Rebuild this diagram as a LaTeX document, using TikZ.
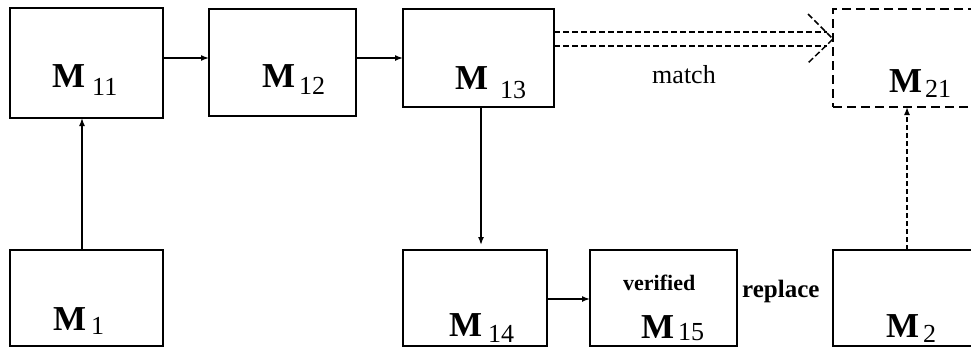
\documentclass[tikz,border=0pt]{standalone}
\usepackage{fontspec}
\setmainfont{Liberation Serif}
\usetikzlibrary{arrows.meta}
\newcommand{\msub}[3]{{\fontsize{35pt}{35pt}\selectfont\bfseries M}\hspace{#1pt}\raisebox{-#2pt}{\fontsize{26pt}{26pt}\selectfont #3}}
\begin{document}
\begin{tikzpicture}[x=1pt,y=1pt,
  box/.style={draw, line width=1.6pt, inner sep=0pt, outer sep=0pt, anchor=north west},
  dbox/.style={box, dash pattern=on 9pt off 5pt},
  arr/.style={line width=1.5pt, -{Latex[length=8pt,width=6pt]}},
  darr/.style={arr, dash pattern=on 5pt off 3pt},
  dl/.style={line width=1.5pt, dash pattern=on 6pt off 3pt},
  lab/.style={anchor=base west, inner sep=0pt}]
\useasboundingbox (0,0) rectangle (971,-348);
\clip (0,0) rectangle (971,-348);
% boxes
\node[box, minimum width=153pt, minimum height=110pt] (m11) at (10,-8) {};
\node[box, minimum width=147pt, minimum height=107pt] (m12) at (209,-9) {};
\node[box, minimum width=151pt, minimum height=98pt] (m13) at (403,-9) {};
\node[dbox, minimum width=170pt, minimum height=98pt] (m21) at (833,-9) {};
\node[box, minimum width=153pt, minimum height=96pt] (m1) at (10,-250) {};
\node[box, minimum width=144pt, minimum height=96pt] (m14) at (403,-250) {};
\node[box, minimum width=147pt, minimum height=96pt] (m15) at (590,-250) {};
\node[box, minimum width=170pt, minimum height=96pt] (m2) at (833,-250) {};
% labels
\node[lab] (l11) at (52,-87) {\msub{7}{8}{11}};
\node[lab] (l12) at (262,-87) {\msub{4}{7}{12}};
\node[lab] (l13) at (455,-89) {\msub{12}{9}{13}};
\node[lab] (l21) at (889,-92) {\msub{3}{5}{21}};
\node[lab] (l1) at (53,-330) {\msub{5}{4}{1}};
\node[lab] (l14) at (449,-336) {\msub{6}{6}{14}};
\node[lab] (l15) at (641,-338) {\msub{4}{2}{15}};
\node[lab] (l2) at (886,-337) {\msub{4}{5}{2}};
\node[lab, font=\bfseries\fontsize{22pt}{22pt}\selectfont] (ver) at (623,-290) {verified};
\node[lab, font=\bfseries\fontsize{25pt}{25pt}\selectfont] (rep) at (742,-297) {replace};
\node[anchor=base, inner sep=0pt, font=\fontsize{26pt}{26pt}\selectfont] (match) at (684,-83) {match};
% connectors
\draw[arr] ([yshift=-50pt]m11.north east) -- ([yshift=-49pt]m12.north west);
\draw[arr] ([yshift=-49pt]m12.north east) -- ([yshift=-49pt]m13.north west);
\draw[arr] ([xshift=72pt]m1.north west) -- ([xshift=72pt]m11.south west);
\draw[arr, shorten >=5pt] ([xshift=78pt]m13.south west) -- ([xshift=78pt]m14.north west);
\draw[arr] ([yshift=-49pt]m14.north east) -- ([yshift=-49pt]m15.north west);
\draw[darr] ([xshift=74pt]m2.north west) -- ([xshift=74pt]m21.south west);
% double dashed match arrow
\coordinate (tip) at ([yshift=-30pt]m21.north west);
\draw[dl] ([yshift=-23pt]m13.north east) -- ([shift={(-6pt,7pt)}]tip);
\draw[dl] ([yshift=-37pt]m13.north east) -- ([shift={(-6pt,-7pt)}]tip);
\draw[dl] ([shift={(-25pt,25pt)}]tip) -- (tip) -- ([shift={(-25pt,-24pt)}]tip);
\end{tikzpicture}
\end{document}
